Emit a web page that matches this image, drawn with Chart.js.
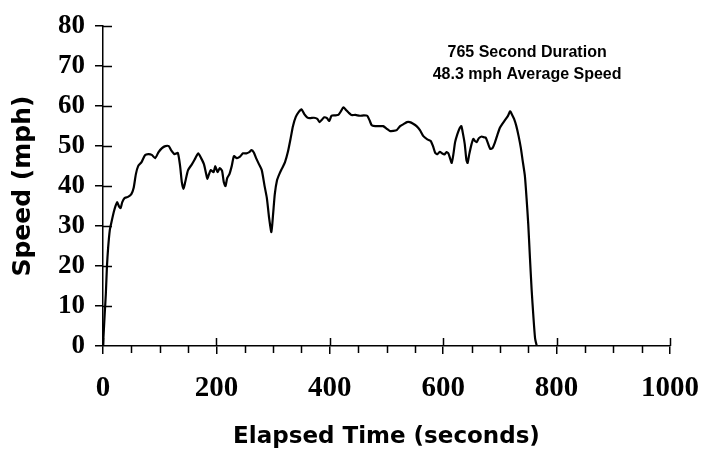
<!DOCTYPE html>
<html>
<head>
<meta charset="utf-8">
<script src="https://cdn.jsdelivr.net/npm/chart.js@4"></script>
<style>
  body { margin: 0; background: #fff; }
  #wrap { width: 706px; height: 455px; position: relative; }
</style>
</head>
<body>
<div id="wrap"><canvas id="speedChart"></canvas></div>
<script>
// elapsed time (s) and speed (mph)
const times = [0, 3, 5, 7, 9, 12, 15, 19, 22, 25, 28, 31, 34, 38, 44, 50, 54, 58, 62, 68,
  74, 80, 86, 92, 98, 104, 110, 116, 120, 126, 132, 136, 139, 142, 145, 150, 157, 163, 168, 173,
  178, 182, 184, 187, 190, 195, 198, 202, 206, 210, 213, 216, 219, 223, 227, 231, 236, 241, 247, 253,
  258, 262, 266, 270, 275, 280, 285, 289, 293, 297, 300, 303, 307, 311, 316, 321, 326, 331, 335, 340,
  345, 350, 355, 360, 365, 372, 378, 382, 386, 390, 395, 399, 403, 409, 415, 420, 424, 429, 433, 438,
  445, 453, 460, 466, 470, 474, 480, 487, 494, 500, 506, 512, 518, 524, 530, 536, 541, 547, 553, 559,
  565, 572, 578, 582, 586, 590, 594, 598, 602, 606, 609, 612, 615, 618, 621, 625, 629, 632, 635, 638,
  641, 643, 646, 650, 653, 656, 659, 663, 668, 672, 675, 679, 683, 687, 691, 696, 700, 704, 709, 714,
  718, 721, 725, 729, 733, 737, 740, 744, 747, 750, 753, 756, 759, 762, 765];
const speeds = [0, 8, 13, 20, 24.5, 29, 31, 33.5, 35, 36, 35, 34.5, 36, 37, 37.3, 38, 39.5, 43, 45, 46,
  47.7, 48, 47.8, 47, 48.5, 49.5, 50, 50, 49, 48, 48.3, 45, 41, 39.3, 41, 44, 45.5, 47, 48.2, 47,
  45.5, 43, 41.8, 43, 44, 43.5, 45, 43.5, 44.5, 43.8, 41, 40, 42, 43, 45, 47.5, 47, 47.3, 48.2, 48.2,
  48.5, 49, 48.4, 47, 45.5, 44, 40, 37, 32, 28.5, 33, 38, 41.5, 43, 44.5, 46, 48.5, 52, 55, 57.3,
  58.5, 59.2, 58, 57.2, 57, 57.1, 56.8, 56, 56.6, 57.2, 57, 56.3, 57.6, 57.7, 57.8, 58.8, 59.7, 59, 58.4, 57.8,
  57.8, 57.6, 57.7, 57.6, 56.5, 55.2, 55, 55, 55, 54.4, 53.8, 53.8, 54, 55, 55.5, 56, 56, 55.6, 55, 54,
  52.5, 51.7, 51.3, 50, 48.3, 48, 48.6, 48.2, 47.9, 48.5, 48.2, 47, 45.8, 48, 51, 53, 54.5, 55, 53, 50.5,
  46.5, 45.8, 48, 50.5, 51.8, 51.3, 51, 52, 52.4, 52.2, 52.1, 50.7, 49.3, 49.5, 50.8, 53, 54.6, 55.5, 56.5, 57.5,
  58.7, 58, 56.8, 55, 52.5, 49.5, 46.5, 42.6, 37, 30.5, 22, 14, 7.5, 2, 0];

const xMax = 1000;
const yMax = 80;
const noteLines = ["765 Second Duration", "48.3 mph Average Speed"];
const noteX = 748;
const noteY = [73.4, 68.0];

// inner halves of the major ticks, minor ticks on the time axis, and the note
const extraMarks = {
  id: "extraMarks",
  afterDraw(chart) {
    const { ctx, scales: { x, y } } = chart;
    ctx.save();
    ctx.strokeStyle = "#000";
    ctx.lineWidth = 1.5;
    ctx.beginPath();
    for (let v = 0; v <= xMax; v += 50) {
      const px = Math.round(x.getPixelForValue(v)) + 0.5;
      if (v % 200 === 0) {
        ctx.moveTo(px, y.bottom);
        ctx.lineTo(px, y.bottom - 8);
      } else {
        ctx.moveTo(px, y.bottom);
        ctx.lineTo(px, y.bottom + 7);
      }
    }
    for (let v = 10; v <= yMax; v += 10) {
      const py = Math.round(y.getPixelForValue(v)) + 0.5;
      ctx.moveTo(x.left, py);
      ctx.lineTo(x.left + 9, py);
    }
    ctx.stroke();

    ctx.fillStyle = "#000";
    ctx.font = 'bold 16px "Liberation Sans", Arial, sans-serif';
    ctx.textAlign = "center";
    ctx.textBaseline = "middle";
    noteLines.forEach((line, i) => {
      ctx.fillText(line, x.getPixelForValue(noteX), y.getPixelForValue(noteY[i]));
    });
    ctx.restore();
  },
};

const chartSpeed = new Chart(document.getElementById("speedChart"), {
  type: "line",
  data: {
    datasets: [
      {
        label: "Speed",
        data: times.map((t, i) => ({ x: t, y: speeds[i] })),
        borderColor: "#000",
        borderWidth: 2.2,
        pointRadius: 0,
        tension: 0.2,
        fill: false,
      },
    ],
  },
  options: {
    responsive: true,
    maintainAspectRatio: false,
    animation: false,
    layout: { padding: { top: 21, right: 36, left: 0, bottom: 0 } },
    plugins: { legend: { display: false }, tooltip: { enabled: false } },
    scales: {
      x: {
        type: "linear",
        min: 0,
        max: xMax,
        afterFit: (scale) => {
          scale.height = 109;
          scale.paddingLeft = 0;
          scale.paddingRight = 0;
        },
        ticks: {
          stepSize: 200,
          color: "#000",
          padding: 17,
          maxRotation: 0,
          callback: (value) => String(value),
          font: { family: '"Liberation Serif", "Times New Roman", serif', weight: "bold", size: 29 },
        },
        grid: { drawOnChartArea: false, drawTicks: true, tickLength: 8, color: "#000", lineWidth: 1.5 },
        border: { color: "#000", width: 1.5 },
        title: {
          display: true,
          text: "Elapsed Time (seconds)",
          color: "#000",
          padding: { top: 0, bottom: 4 },
          font: { family: '"DejaVu Sans", sans-serif', weight: "bold", size: 23 },
        },
      },
      y: {
        min: 0,
        max: yMax,
        afterFit: (scale) => { scale.width = 103; },
        ticks: {
          stepSize: 10,
          color: "#000",
          padding: 10,
          font: { family: '"Liberation Serif", "Times New Roman", serif', weight: "bold", size: 27 },
        },
        grid: { drawOnChartArea: false, drawTicks: true, tickLength: 8, color: "#000", lineWidth: 1.5 },
        border: { color: "#000", width: 1.5 },
        title: {
          display: true,
          text: "Speed (mph)",
          color: "#000",
          padding: { top: 8, bottom: 0 },
          font: { family: '"DejaVu Sans", sans-serif', weight: "bold", size: 25 },
        },
      },
    },
  },
  plugins: [extraMarks],
});
</script>
</body>
</html>
